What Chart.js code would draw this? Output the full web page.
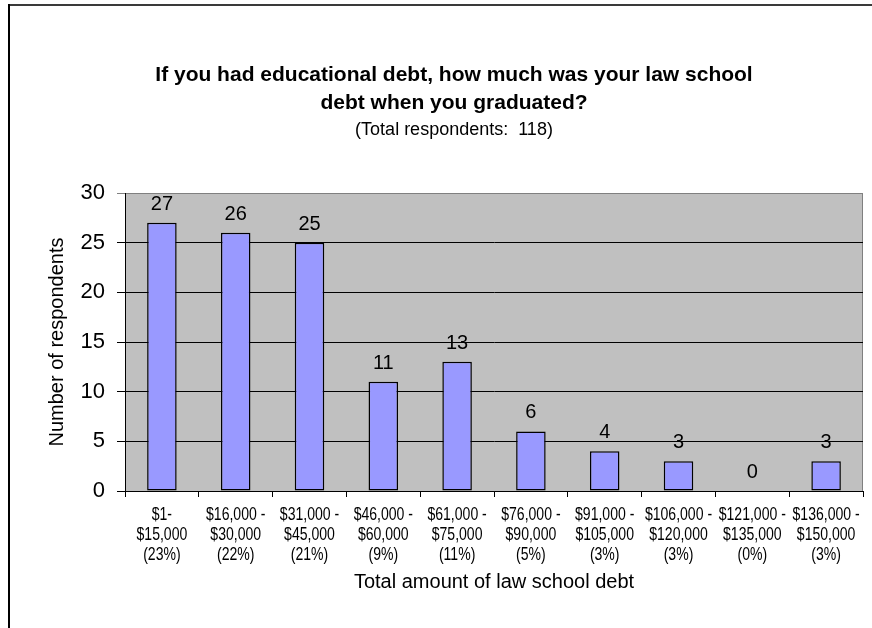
<!DOCTYPE html>
<html>
<head>
<meta charset="utf-8">
<title>Law school debt</title>
<script src="https://cdn.jsdelivr.net/npm/chart.js@4/dist/chart.umd.min.js"></script>
<style>
  html, body { margin: 0; padding: 0; background: #fff; }
  #wrap { width: 872px; height: 628px; position: relative; }
</style>
</head>
<body>
<div id="wrap"><canvas id="debtChart" width="872" height="628"></canvas></div>
<script>
// debt ranges, each label split over three lines
const debtRanges = [
  ['$1-', '$15,000', '(23%)'],
  ['$16,000 -', '$30,000', '(22%)'],
  ['$31,000 -', '$45,000', '(21%)'],
  ['$46,000 -', '$60,000', '(9%)'],
  ['$61,000 -', '$75,000', '(11%)'],
  ['$76,000 -', '$90,000', '(5%)'],
  ['$91,000 -', '$105,000', '(3%)'],
  ['$106,000 -', '$120,000', '(3%)'],
  ['$121,000 -', '$135,000', '(0%)'],
  ['$136,000 -', '$150,000', '(3%)']
];
const respondents = [27, 26, 25, 11, 13, 6, 4, 3, 0, 3];
const yTicks = [0, 5, 10, 15, 20, 25, 30];

const FONT = "'Liberation Sans', Arial, sans-serif";
Chart.defaults.font.family = FONT;
Chart.defaults.color = '#000';

// outer frame of the chart (left and top edges)
const framePlugin = {
  id: 'frame',
  afterDraw(chart) {
    const c = chart.ctx;
    c.save();
    c.lineWidth = 2;
    c.strokeStyle = '#3a3a3a';
    c.beginPath();
    c.moveTo(8, 5);
    c.lineTo(chart.width, 5);
    c.stroke();
    c.strokeStyle = '#000';
    c.beginPath();
    c.moveTo(9, 4);
    c.lineTo(9, chart.height);
    c.stroke();
    c.restore();
  }
};

// grey plot area with its border
const plotAreaPlugin = {
  id: 'plotArea',
  beforeDraw(chart) {
    const a = chart.chartArea;
    const c = chart.ctx;
    c.save();
    c.fillStyle = '#c0c0c0';
    c.fillRect(a.left, a.top, a.right - a.left, a.bottom - a.top);
    c.strokeStyle = '#808080';
    c.lineWidth = 1;
    c.strokeRect(a.left + 0.5, a.top + 0.5, a.right - a.left - 1, a.bottom - a.top);
    c.restore();
  }
};

// counts written above each bar
const valueLabelPlugin = {
  id: 'valueLabels',
  afterDatasetsDraw(chart) {
    const c = chart.ctx;
    const meta = chart.getDatasetMeta(0);
    c.save();
    c.font = '20px ' + FONT;
    c.fillStyle = '#000';
    c.textAlign = 'center';
    c.textBaseline = 'alphabetic';
    meta.data.forEach((bar, i) => {
      c.fillText(String(respondents[i]), bar.x, bar.y - 13);
    });
    c.restore();
  }
};

// category labels in a squeezed face, three lines under each tick
const condensedTicksPlugin = {
  id: 'condensedTicks',
  afterDraw(chart) {
    const x = chart.scales.x;
    const c = chart.ctx;
    c.save();
    c.font = '18px ' + FONT;
    c.fillStyle = '#000';
    c.textAlign = 'center';
    c.textBaseline = 'middle';
    chart.data.labels.forEach((lines, i) => {
      const px = x.getPixelForTick(i);
      lines.forEach((line, j) => {
        c.save();
        c.translate(px, x.top + 24 + j * 20);
        c.scale(0.78, 1);
        c.fillText(line, 0, 0);
        c.restore();
      });
    });
    c.restore();
  }
};

new Chart(document.getElementById('debtChart'), {
  type: 'bar',
  data: {
    labels: debtRanges,
    datasets: [{
      data: respondents,
      backgroundColor: '#9999ff',
      borderColor: '#000',
      borderWidth: 1.5,
      borderSkipped: false,
      barPercentage: 0.4,
      categoryPercentage: 1
    }]
  },
  options: {
    responsive: false,
    animation: false,
    layout: { padding: { left: 45, right: 9, top: 0, bottom: 34 } },
    plugins: {
      legend: { display: false },
      tooltip: { enabled: false },
      title: {
        display: true,
        text: ['If you had educational debt, how much was your law school', 'debt when you graduated?'],
        font: { size: 21, weight: 'bold', lineHeight: 28 / 21 },
        color: '#000',
        padding: { top: 61, bottom: 1 }
      },
      subtitle: {
        display: true,
        text: '(Total respondents:  118)',
        font: { size: 18, lineHeight: 24 / 18 },
        color: '#000',
        padding: { top: 0, bottom: 51 }
      }
    },
    scales: {
      x: {
        grid: { drawOnChartArea: false, drawTicks: true, tickLength: 6, color: '#000', offset: true },
        border: { color: '#000', width: 1 },
        ticks: { display: false, autoSkip: false, maxRotation: 0 },
        title: {
          display: true,
          text: 'Total amount of law school debt',
          font: { size: 20, lineHeight: 1.2 },
          color: '#000',
          padding: { top: 0, bottom: 0 }
        },
        afterFit(scale) { scale.height = 103; }
      },
      y: {
        min: 0,
        max: 30,
        afterBuildTicks(scale) { scale.ticks = yTicks.map(v => ({ value: v })); },
        grid: {
          color: ctx => (ctx.tick && ctx.tick.value === 30 ? '#808080' : '#000'),
          tickLength: 8,
          drawTicks: true
        },
        border: { color: '#000', width: 1 },
        ticks: {
          padding: 12,
          color: '#000',
          font: { size: 22 }
        },
        title: {
          display: true,
          text: 'Number of respondents',
          font: { size: 20, lineHeight: 1.2 },
          color: '#000',
          padding: { top: 0, bottom: 0 }
        },
        afterFit(scale) { scale.width = 80; }
      }
    }
  },
  plugins: [plotAreaPlugin, valueLabelPlugin, condensedTicksPlugin, framePlugin]
});
</script>
</body>
</html>
